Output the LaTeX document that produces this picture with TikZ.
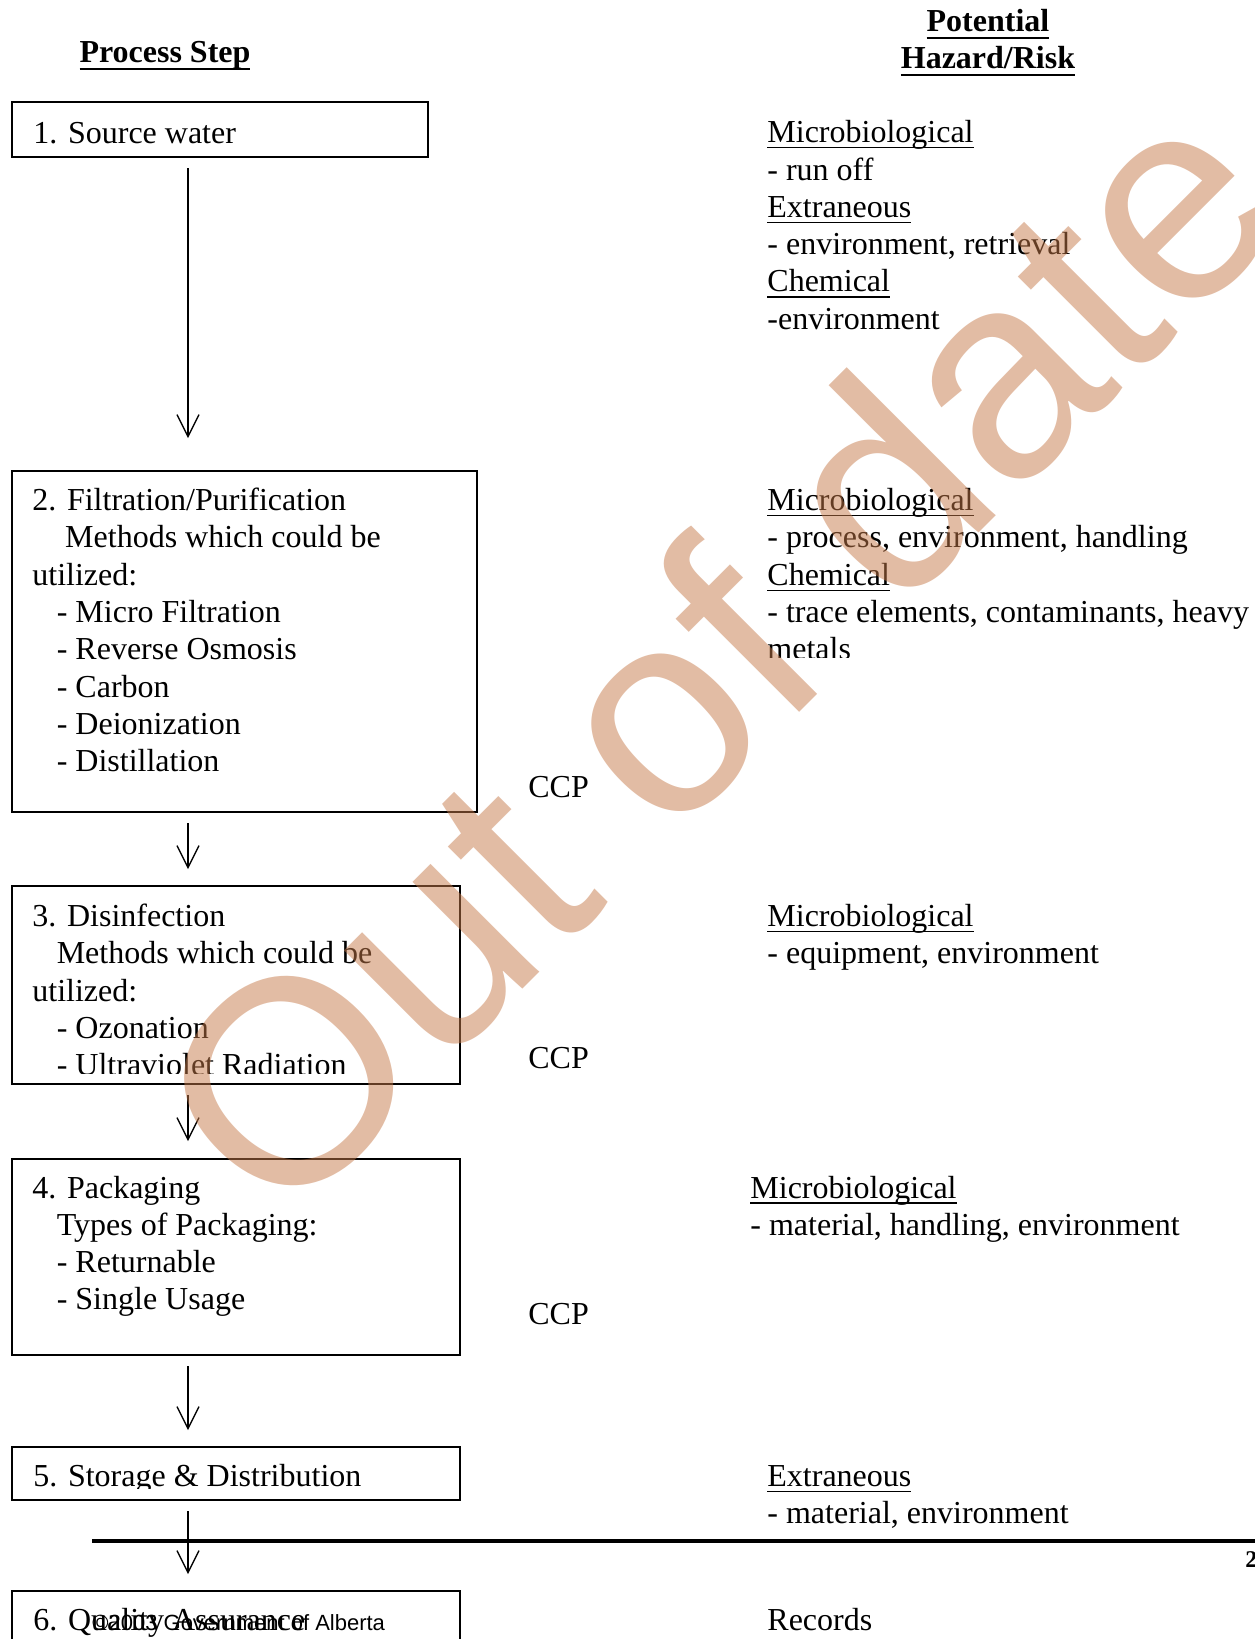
\documentclass[tikz,border=0pt]{standalone}
\usepackage{fontspec}
\setmainfont{Liberation Serif}
\newfontfamily\wmfont{Liberation Sans}
\usetikzlibrary{arrows.meta,fit}
\definecolor{wmcolor}{RGB}{197,121,73}
\newsavebox\ulbox
\newcommand\undl[1]{\sbox\ulbox{#1}\rlap{\rule[-2.8pt]{\wd\ulbox}{0.6pt}}\usebox\ulbox}
\newcommand\headul[1]{\sbox\ulbox{#1}\rlap{\rule[-4.2pt]{\wd\ulbox}{1.1pt}}\usebox\ulbox}

\begin{document}
\begin{tikzpicture}[x=0.5pt,y=-0.5pt,
    txt/.style={anchor=base west,inner sep=0pt,font=\fontsize{16}{18.65}\selectfont},
    head/.style={anchor=base,inner sep=0pt,font=\fontsize{16}{18.65}\selectfont\bfseries},
    box/.style={draw,line width=1pt,inner sep=0pt},
    flow/.style={line width=0.65pt,-{Straight Barb[length=11pt,width=11pt]}}]
\useasboundingbox (0,0) rectangle (1254,1639);

% column headings
\node[head] (hproc) at (165,62) {\headul{Process Step}};
\node[head] (hpot) at (988,31) {\headul{Potential}};
\node[head] (hrisk) at (988,68) {\headul{Hazard/Risk}};

% process boxes
\node[box,fit={(11.5,102) (428,157)}] (b1) {};
\node[box,fit={(11.5,471) (476.5,812)}] (b2) {};
\node[box,fit={(11.5,886) (460,1084)}] (b3) {};
\node[box,fit={(11.5,1159) (460,1355)}] (b4) {};
\node[box,fit={(11.5,1446.5) (460,1500)}] (b5) {};
\node[box,fit={(11.5,1590.5) (460,1680)}] (b6) {};

% arrows between the steps
\coordinate (ax) at (188,0);
\foreach \a/\b/\g in {b1/b2/16pt, b2/b3/8pt, b3/b4/8.5pt, b4/b5/7.75pt, b5/b6/7.75pt}
    \draw[flow,shorten <=5pt,shorten >=\g] (\a.south -| ax) -- (\b.north -| ax);

% step texts
\node[txt] (s1) at (33,143.8) {1. Source water};
\foreach \x/\t [count=\i] in {32/{2. Filtration/Purification}, 64.8/Methods which could be, 32/utilized:,
    56.4/- Micro Filtration, 56.4/- Reverse Osmosis, 56.4/- Carbon, 56.4/- Deionization, 56.4/- Distillation}
    \node[txt] (s2-\i) at (\x,{510.5+37.3*(\i-1)}) {\t};
\begin{scope}
\clip (0,880) rectangle (470,1073);
\foreach \x/\t [count=\i] in {32/3. Disinfection, 56.4/Methods which could be, 32/utilized:,
    56.4/- Ozonation, 56.4/- Ultraviolet Radiation}
    \node[txt] (s3-\i) at (\x,{926.5+37.3*(\i-1)}) {\t};
\end{scope}
\foreach \x/\t [count=\i] in {32/4. Packaging, 56.4/Types of Packaging:, 56.4/- Returnable, 56.4/- Single Usage}
    \node[txt] (s4-\i) at (\x,{1198+37.3*(\i-1)}) {\t};
\begin{scope}
\clip (0,1440) rectangle (470,1488);
\node[txt] (s5) at (33,1486.6) {5. Storage \& Distribution};
\end{scope}
\node[txt] (s6) at (33,1630) {6. Quality Assurance};

% critical control points
\node[txt] (ccp2) at (528,797) {CCP};
\node[txt] (ccp3) at (528,1068.6) {CCP};
\node[txt] (ccp4) at (528,1324.6) {CCP};

% hazards
\foreach \t [count=\i] in {\undl{Microbiological}, - run off, \undl{Extraneous},
    {- environment, retrieval}, \undl{Chemical}, -environment}
    \node[txt] (h1-\i) at (767,{142.7+37.3*(\i-1)}) {\t};
\begin{scope}
\clip (740,470) rectangle (1254,657);
\foreach \t [count=\i] in {\undl{Microbiological}, {- process, environment, handling}, \undl{Chemical},
    {- trace elements, contaminants, heavy}, metals}
    \node[txt] (h2-\i) at (767,{510.5+37.3*(\i-1)}) {\t};
\end{scope}
\node[txt] (h3-1) at (767,926.5) {\undl{Microbiological}};
\node[txt] (h3-2) at (767,963.8) {- equipment, environment};
\node[txt] (h4-1) at (750,1198) {\undl{Microbiological}};
\node[txt] (h4-2) at (750,1235.3) {- material, handling, environment};
\node[txt] (h5-1) at (767,1486.6) {\undl{Extraneous}};
\node[txt] (h5-2) at (767,1523.9) {- material, environment};
\node[txt] (h6) at (767,1630) {Records};

% page footer
\draw[line width=2pt] (92,1541) -- (1260,1541);
\node[anchor=base west,inner sep=0pt,font=\fontsize{12}{14}\selectfont\bfseries] (pgnum) at (1245,1567) {2};
\node[anchor=base west,inner sep=0pt,font=\wmfont\fontsize{11}{13}\selectfont] (foot) at (92,1630) {\textcopyright2003 Government of Alberta};

% watermark
\node[rotate=45,text=wmcolor,text opacity=0.5,inner sep=0pt,font=\wmfont\fontsize{145}{145}\selectfont] (wm) at (714,651) {Out of date};
\end{tikzpicture}
\end{document}
